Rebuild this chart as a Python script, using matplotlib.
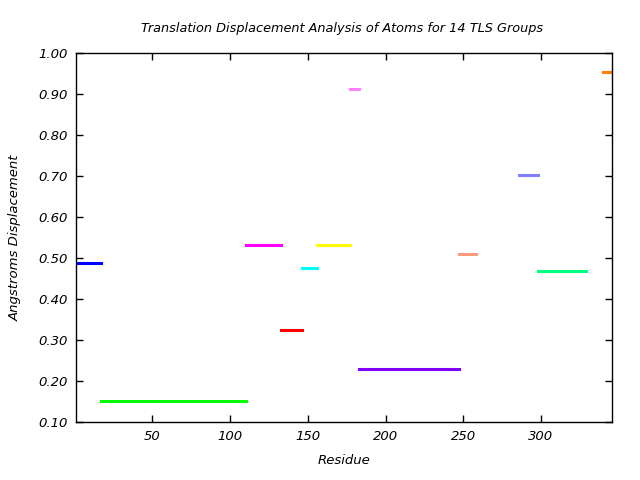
import matplotlib
matplotlib.use('Agg')
import matplotlib.pyplot as plt

# TLS groups: residue ranges and translation displacement
starts = [1, 17, 110, 133, 146, 156, 177, 183, 247, 286, 298, 340]
ends = [17, 110, 133, 146, 156, 177, 183, 247, 258, 298, 329, 347]
values = [0.487, 0.150, 0.531, 0.324, 0.475, 0.531, 0.912, 0.229, 0.509, 0.702, 0.468, 0.954]
colors = ['#0000ff', '#00ff00', '#ff00ff', '#ff0000', '#00ffff', '#ffff00',
          '#ff80ff', '#8000ff', '#ff9980', '#8080ff', '#00ff80', '#ff8000']

xticks = [50, 100, 150, 200, 250, 300]
yticks = [0.1, 0.2, 0.3, 0.4, 0.5, 0.6, 0.7, 0.8, 0.9, 1.0]

fig = plt.figure(figsize=(6.4, 4.8), dpi=100)
ax = fig.add_axes([0.119, 0.121, 0.838, 0.769])

for s, e, v, c in zip(starts, ends, values, colors):
    ax.plot([s, e], [v, v], color=c, linewidth=2.2, solid_capstyle='projecting')

ax.set_xlim(1, 346)
ax.set_ylim(0.1, 1.0)
ax.set_xticks(xticks)
ax.set_yticks(yticks)
ax.set_yticklabels(['%.2f' % y for y in yticks])
ax.tick_params(direction='in', top=True, right=True, length=5, width=1,
               labelsize=9.5, pad=6)
for lab in ax.get_xticklabels() + ax.get_yticklabels():
    lab.set_style('italic')
for sp in ax.spines.values():
    sp.set_linewidth(1)

ax.set_xlabel('Residue', style='italic', fontsize=9.5, labelpad=8)
ax.set_ylabel('Angstroms Displacement', style='italic', fontsize=9.5, labelpad=12)
fig.text(0.535, 0.94, 'Translation Displacement Analysis of Atoms for 14 TLS Groups',
         ha='center', va='center', style='italic', fontsize=9.3)

fig.savefig('out.png', dpi=100)
